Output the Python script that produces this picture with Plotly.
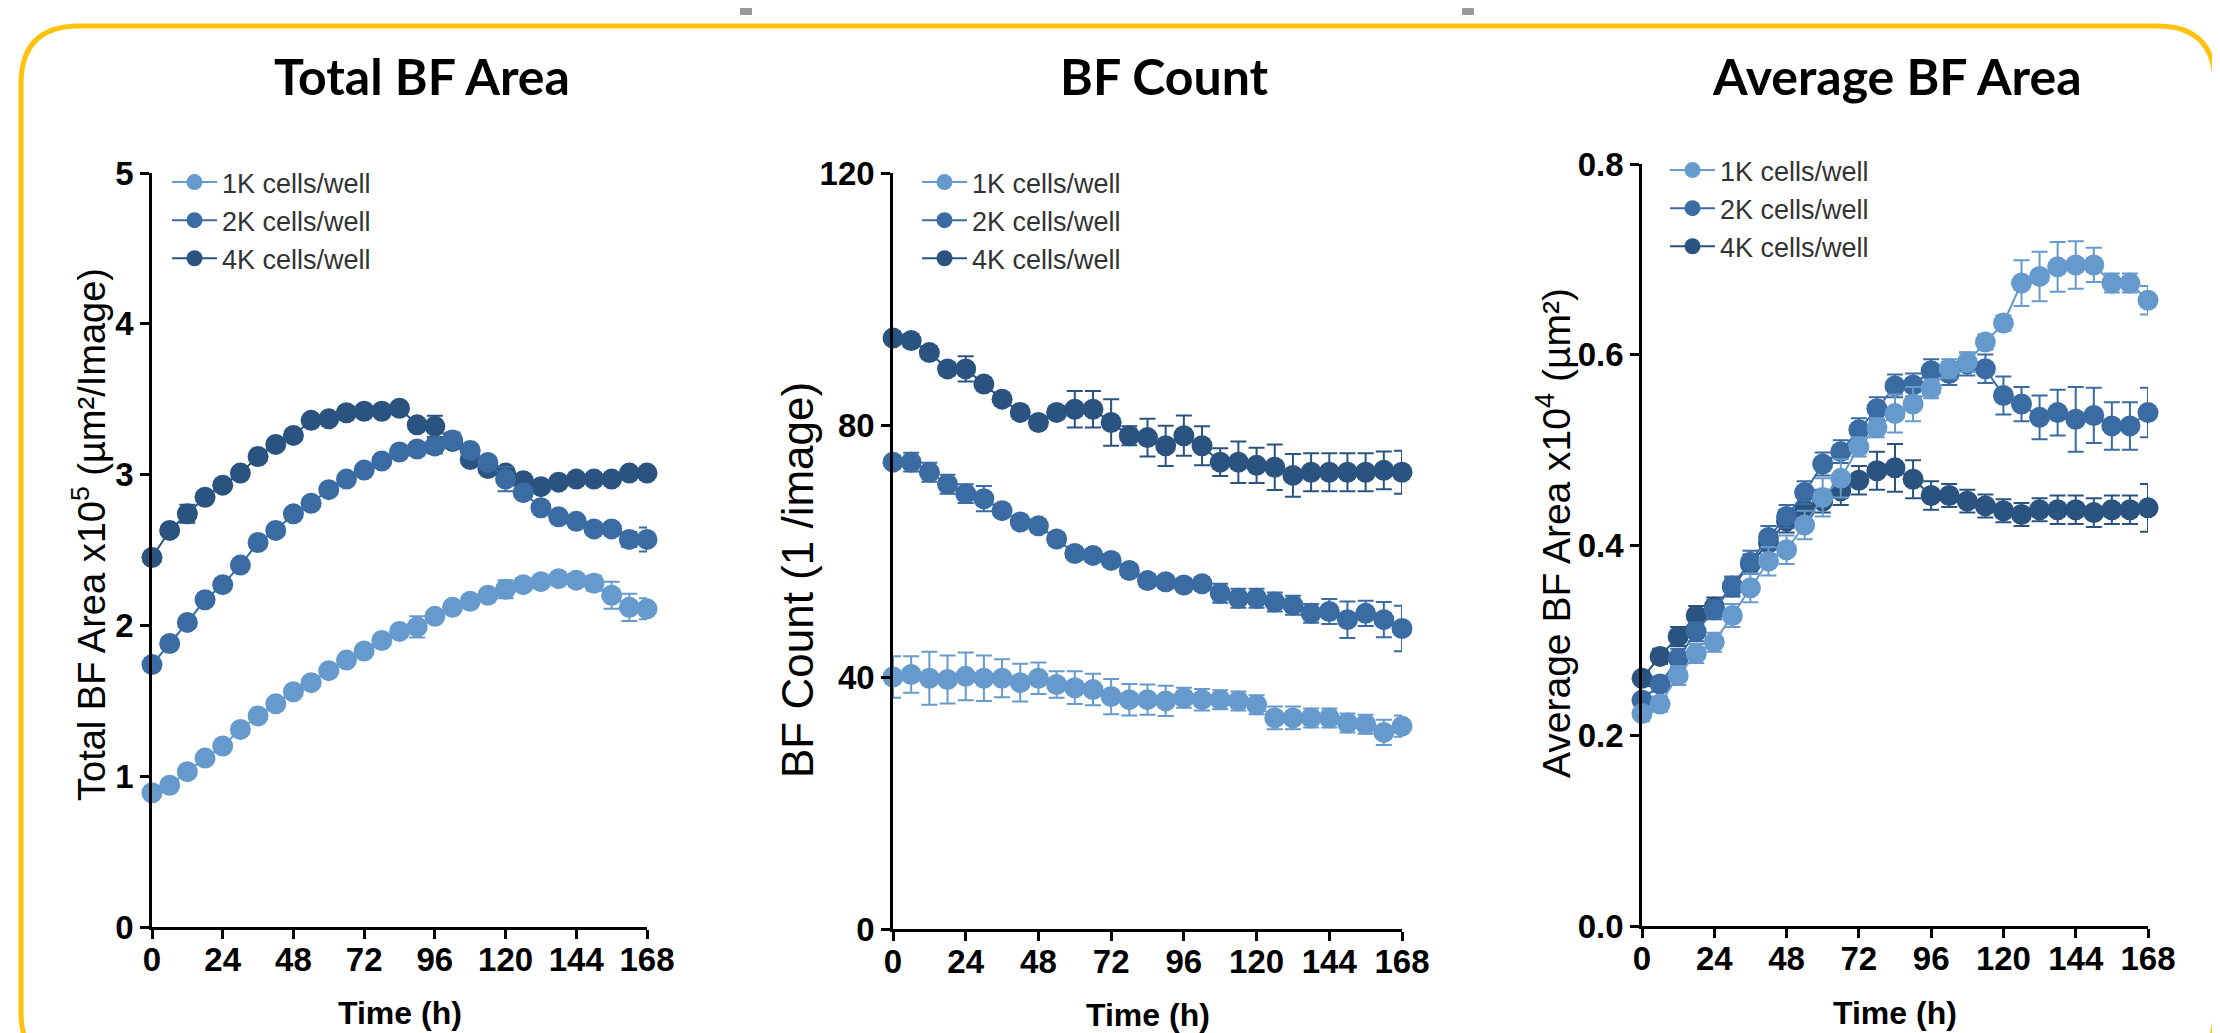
import plotly.graph_objects as go

# ---------------- data ----------------
time_h = [0, 6, 12, 18, 24, 30, 36, 42, 48, 54, 60, 66, 72, 78, 84, 90, 96, 102,
          108, 114, 120, 126, 132, 138, 144, 150, 156, 162, 168]
x_ticks = [0, 24, 48, 72, 96, 120, 144, 168]
series_names = ["1K cells/well", "2K cells/well", "4K cells/well"]

# Total BF Area (x10^5 um2/image)
area_1k = [0.89, 0.94, 1.03, 1.12, 1.20, 1.31, 1.40, 1.48, 1.56, 1.62, 1.70, 1.77, 1.83, 1.90, 1.96,
           1.99, 2.06, 2.12, 2.16, 2.20, 2.24, 2.27, 2.29, 2.31, 2.30, 2.28, 2.20, 2.12, 2.11]
area_1k_err = [0.02, 0.02, 0.02, 0.02, 0.02, 0.02, 0.02, 0.02, 0.02, 0.02, 0.02, 0.02, 0.02, 0.02, 0.03,
               0.07, 0.02, 0.02, 0.02, 0.03, 0.06, 0.04, 0.02, 0.02, 0.04, 0.05, 0.09, 0.09, 0.07]
area_2k = [1.74, 1.88, 2.02, 2.17, 2.27, 2.40, 2.55, 2.63, 2.74, 2.81, 2.90, 2.97, 3.03, 3.09, 3.15,
           3.17, 3.19, 3.23, 3.16, 3.08, 2.97, 2.88, 2.78, 2.72, 2.69, 2.64, 2.64, 2.57, 2.57]
area_2k_err = [0.02, 0.02, 0.02, 0.02, 0.02, 0.02, 0.02, 0.02, 0.02, 0.02, 0.02, 0.02, 0.02, 0.02, 0.02,
               0.02, 0.05, 0.05, 0.02, 0.03, 0.08, 0.03, 0.02, 0.02, 0.02, 0.02, 0.03, 0.05, 0.08]
area_4k = [2.45, 2.63, 2.74, 2.85, 2.93, 3.01, 3.12, 3.20, 3.26, 3.36, 3.37, 3.41, 3.42, 3.42, 3.44,
           3.33, 3.32, 3.22, 3.10, 3.04, 3.01, 2.96, 2.92, 2.95, 2.97, 2.97, 2.97, 3.01, 3.01]
area_4k_err = [0.02, 0.02, 0.06, 0.02, 0.02, 0.02, 0.02, 0.02, 0.02, 0.02, 0.02, 0.02, 0.02, 0.02, 0.02,
               0.02, 0.07, 0.02, 0.02, 0.02, 0.02, 0.02, 0.02, 0.02, 0.02, 0.02, 0.02, 0.02, 0.02]

# BF Count (1/image)
count_1k = [40.0, 40.4, 39.8, 39.6, 40.1, 39.8, 39.8, 39.1, 39.8, 38.8, 38.3, 38.0, 36.9, 36.4, 36.4,
            36.2, 36.7, 36.4, 36.4, 36.2, 35.6, 33.5, 33.5, 33.5, 33.5, 32.7, 32.5, 31.2, 32.2]
count_1k_err = [3.3, 2.9, 4.2, 3.8, 3.8, 3.6, 3.0, 3.0, 2.5, 2.1, 2.6, 2.5, 2.8, 2.5, 2.4,
                2.4, 1.6, 1.7, 1.5, 1.5, 1.5, 1.8, 1.8, 1.5, 1.5, 1.5, 1.5, 2.0, 1.7]
count_2k = [74.1, 74.1, 72.5, 70.6, 69.1, 68.3, 66.4, 64.6, 64.0, 61.9, 59.6, 59.3, 58.5, 56.9, 55.3,
            55.1, 54.6, 54.8, 53.3, 52.5, 52.5, 51.9, 51.4, 50.1, 50.4, 49.1, 50.1, 49.1, 47.7]
count_2k_err = [1.0, 1.5, 1.5, 1.5, 1.5, 2.0, 1.0, 1.0, 1.0, 1.0, 1.0, 1.0, 1.0, 1.0, 1.0,
                1.0, 1.0, 1.0, 1.5, 1.5, 1.5, 1.5, 1.5, 1.5, 2.0, 2.9, 2.0, 2.8, 3.6]
count_4k = [93.8, 93.4, 91.5, 88.9, 88.9, 86.5, 84.1, 82.0, 80.4, 82.0, 82.5, 82.5, 80.4, 78.3, 78.0,
            76.7, 78.3, 76.7, 74.1, 74.1, 73.6, 73.3, 72.0, 72.5, 72.5, 72.5, 72.5, 72.8, 72.5]
count_4k_err = [1.0, 1.0, 1.0, 1.0, 2.0, 1.0, 1.0, 1.0, 1.0, 1.0, 2.9, 2.9, 3.7, 1.5, 3.0,
                3.2, 3.2, 3.1, 2.2, 3.3, 2.8, 3.6, 3.4, 3.0, 3.0, 3.0, 3.0, 3.0, 3.4]

# Average BF Area (x10^4 um2)
avg_1k = [0.223, 0.233, 0.263, 0.286, 0.298, 0.326, 0.355, 0.383, 0.395, 0.421, 0.450, 0.470, 0.503, 0.523, 0.538,
          0.548, 0.564, 0.585, 0.592, 0.613, 0.633, 0.675, 0.682, 0.692, 0.694, 0.694, 0.675, 0.675, 0.657]
avg_1k_err = [0.008, 0.008, 0.01, 0.01, 0.01, 0.012, 0.015, 0.015, 0.015, 0.015, 0.02, 0.02, 0.01, 0.01, 0.02,
              0.018, 0.01, 0.01, 0.01, 0.008, 0.008, 0.024, 0.026, 0.026, 0.025, 0.018, 0.01, 0.01, 0.015]
avg_2k = [0.237, 0.254, 0.281, 0.309, 0.332, 0.357, 0.382, 0.408, 0.430, 0.455, 0.485, 0.498, 0.521, 0.543, 0.567,
          0.568, 0.583, 0.580, 0.590, 0.585, 0.557, 0.548, 0.534, 0.539, 0.532, 0.536, 0.525, 0.525, 0.539]
avg_2k_err = [0.008, 0.008, 0.01, 0.01, 0.01, 0.01, 0.012, 0.012, 0.012, 0.012, 0.012, 0.012, 0.012, 0.012, 0.012,
              0.012, 0.012, 0.012, 0.012, 0.015, 0.02, 0.018, 0.023, 0.024, 0.034, 0.029, 0.025, 0.025, 0.026]
avg_4k = [0.260, 0.283, 0.304, 0.326, 0.335, 0.356, 0.380, 0.402, 0.425, 0.437, 0.446, 0.457, 0.468, 0.478, 0.481,
          0.469, 0.452, 0.452, 0.446, 0.441, 0.436, 0.432, 0.437, 0.437, 0.437, 0.434, 0.437, 0.437, 0.439]
avg_4k_err = [0.008, 0.008, 0.01, 0.01, 0.01, 0.01, 0.01, 0.012, 0.012, 0.012, 0.012, 0.015, 0.015, 0.02, 0.025,
              0.02, 0.015, 0.012, 0.012, 0.012, 0.012, 0.012, 0.012, 0.015, 0.015, 0.015, 0.015, 0.015, 0.025]

panel_titles = ["Total BF Area", "BF Count", "Average BF Area"]
y_titles = ["Total BF Area x10<sup>5</sup> (µm²/Image)",
            "BF Count (1 /image)",
            "Average BF Area x10<sup>4</sup> (µm²)"]
x_title = "Time (h)"
y_ticks = [[0, 1, 2, 3, 4, 5], [0, 40, 80, 120], [0.0, 0.2, 0.4, 0.6, 0.8]]
y_ticktext = [["0", "1", "2", "3", "4", "5"], ["0", "40", "80", "120"], ["0.0", "0.2", "0.4", "0.6", "0.8"]]
y_ranges = [[0, 5], [0, 120], [0, 0.8]]

panels = [
    [(area_1k, area_1k_err), (area_2k, area_2k_err), (area_4k, area_4k_err)],
    [(count_1k, count_1k_err), (count_2k, count_2k_err), (count_4k, count_4k_err)],
    [(avg_1k, avg_1k_err), (avg_2k, avg_2k_err), (avg_4k, avg_4k_err)],
]

# ---------------- styling ----------------
OFF = 8                      # default page margin around the plot div
W, H = 2220 - OFF, 1033 - OFF
colors = ["#6699CC", "#3A6BA3", "#2A5380"]
FONT = "Liberation Sans, Arial, sans-serif"
TITLE_FONT = "Lato, Liberation Sans, sans-serif"

def fx(v):   # page pixel -> paper x
    return (v - OFF) / W

def fy(v):   # page pixel -> paper y
    return 1 - (v - OFF) / H

# plot areas in page pixels: (left, right, top, bottom)
areas = [(152, 647, 173, 927), (893, 1402, 173, 929), (1642, 2148, 164, 926)]
legend_pos = [(167, 158), (917, 158), (1665, 146)]
title_x = [422, 1164, 1897]
ytitle_pos = [(89, 535, 38), (797, 580, 44), (1553, 533, 39)]
xtitle_y = [1013, 1015, 1013]

fig = go.Figure()

for p in range(3):
    ax = "" if p == 0 else str(p + 1)
    leg = "legend" if p == 0 else "legend%d" % (p + 1)
    for s in [2, 1, 0]:
        vals, err = panels[p][s]
        fig.add_trace(go.Scatter(
            x=time_h, y=vals, name=series_names[s],
            mode="lines+markers",
            line=dict(color=colors[s], width=2),
            marker=dict(color=colors[s], size=21),
            error_y=dict(type="data", array=err, color=colors[s], thickness=2, width=8),
            xaxis="x" + ax, yaxis="y" + ax, legend=leg,
            cliponaxis=False, showlegend=True,
        ))

layout = dict(
    width=W, height=H, template="none",
    paper_bgcolor="white", plot_bgcolor="rgba(0,0,0,0)",
    margin=dict(l=0, r=0, t=0, b=0),
    showlegend=True,
    annotations=[], shapes=[],
)

for p in range(3):
    l, r, t, b = areas[p]
    ax = "" if p == 0 else str(p + 1)
    layout["xaxis" + ax] = dict(
        domain=[fx(l), fx(r)], anchor="y" + ax,
        range=[0, 168], tickvals=x_ticks, ticktext=[str(v) for v in x_ticks],
        showline=True, linecolor="black", linewidth=2.5,
        ticks="outside", ticklen=9, tickwidth=2.5, tickcolor="black",
        showgrid=False, zeroline=False, ticklabelstandoff=-7,
        tickfont=dict(family=FONT, size=33, color="black", weight="bold"),
    )
    layout["yaxis" + ax] = dict(
        domain=[fy(b), fy(t)], anchor="x" + ax,
        range=y_ranges[p], tickvals=y_ticks[p], ticktext=y_ticktext[p],
        showline=True, linecolor="black", linewidth=2.5,
        ticks="outside", ticklen=9, tickwidth=2.5, tickcolor="black",
        showgrid=False, zeroline=False,
        tickfont=dict(family=FONT, size=33, color="black", weight="bold"),
    )
    lx, ly = legend_pos[p]
    layout["legend" if p == 0 else "legend%d" % (p + 1)] = dict(
        x=fx(lx), y=fy(ly), xanchor="left", yanchor="top",
        bgcolor="rgba(0,0,0,0)", borderwidth=0, traceorder="reversed",
        font=dict(family=FONT, size=27, color="#333333"),
        itemsizing="trace", tracegroupgap=0, itemwidth=45,
    )
    layout["annotations"].append(dict(
        text=panel_titles[p], x=fx(title_x[p]), y=fy(76),
        xref="paper", yref="paper", xanchor="center", yanchor="middle",
        showarrow=False, font=dict(family=TITLE_FONT, size=50, color="black", weight="bold"),
    ))
    tx, ty, ts = ytitle_pos[p]
    layout["annotations"].append(dict(
        text=y_titles[p], x=fx(tx), y=fy(ty), textangle=-90,
        xref="paper", yref="paper", xanchor="center", yanchor="middle",
        showarrow=False, font=dict(family=FONT, size=ts, color="black"),
    ))
    layout["annotations"].append(dict(
        text=x_title, x=fx((l + r) / 2), y=fy(xtitle_y[p]),
        xref="paper", yref="paper", xanchor="center", yanchor="middle",
        showarrow=False, font=dict(family=FONT, size=32, color="black", weight="bold"),
    ))

# rounded yellow frame (page pixels)
L, T, R, B, rad = 21, 26, 2215, 1070, 58
pts = [(L + rad, T), (R - rad, T), (R, T), (R, T + rad), (R, B - rad), (R, B), (R - rad, B),
       (L + rad, B), (L, B), (L, B - rad), (L, T + rad), (L, T), (L + rad, T)]
c = [(fx(a), fy(b)) for a, b in pts]
path = ("M {0[0]},{0[1]} L {1[0]},{1[1]} Q {2[0]},{2[1]} {3[0]},{3[1]} L {4[0]},{4[1]} "
        "Q {5[0]},{5[1]} {6[0]},{6[1]} L {7[0]},{7[1]} Q {8[0]},{8[1]} {9[0]},{9[1]} "
        "L {10[0]},{10[1]} Q {11[0]},{11[1]} {12[0]},{12[1]} Z").format(*c)
layout["shapes"].append(dict(type="path", path=path, xref="paper", yref="paper",
                             line=dict(color="#FFC20E", width=5), layer="below"))
# small gray marks at top edge
for gx in [746, 1468]:
    layout["shapes"].append(dict(type="rect", xref="paper", yref="paper",
                                 x0=fx(gx - 6), x1=fx(gx + 6), y0=fy(15), y1=fy(OFF),
                                 fillcolor="#9a9a9a", line=dict(width=0)))

fig.update_layout(**layout)
fig.write_html("out.html")
